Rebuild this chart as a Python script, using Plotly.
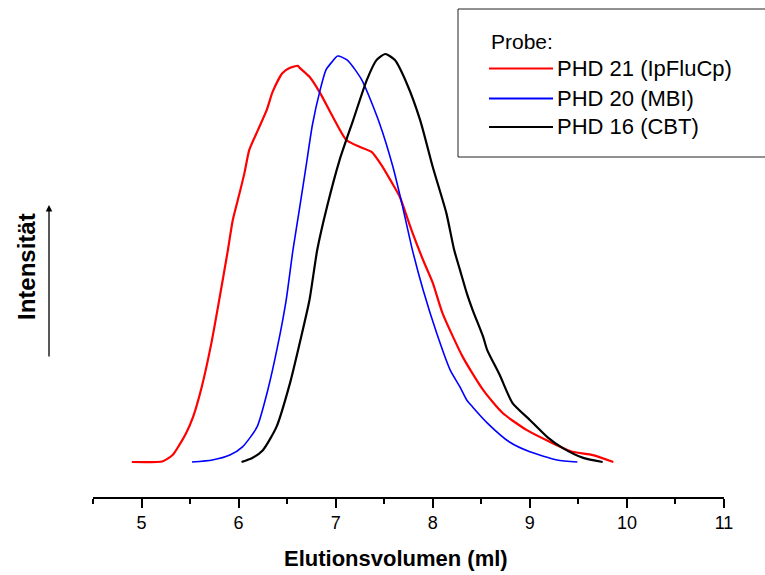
import plotly.graph_objects as go

# ---- data ----
red_x = [4.90, 5.22, 5.32, 5.39, 5.46, 5.53, 5.62, 5.72, 5.80, 5.89, 5.94, 6.01, 6.06, 6.11, 6.20,
         6.29, 6.35, 6.45, 6.53, 6.61, 6.63, 6.73, 6.84, 6.97, 7.11, 7.25, 7.37, 7.47, 7.58, 7.66,
         7.78, 7.90, 8.00, 8.10, 8.31, 8.52, 8.72, 8.97, 9.21, 9.44, 9.65, 9.86]
red_y = [0.000, 0.002, 0.017, 0.042, 0.071, 0.110, 0.184, 0.292, 0.397, 0.520, 0.593, 0.659, 0.708,
         0.765, 0.814, 0.863, 0.907, 0.953, 0.966, 0.971, 0.966, 0.944, 0.904, 0.846, 0.789, 0.772,
         0.760, 0.728, 0.684, 0.650, 0.569, 0.495, 0.439, 0.365, 0.257, 0.176, 0.120, 0.078, 0.049,
         0.025, 0.017, 0.000]

blue_x = [5.52, 5.73, 5.91, 6.04, 6.19, 6.30, 6.40, 6.49, 6.56, 6.63, 6.70, 6.76, 6.84, 6.90, 6.96,
          7.02, 7.12, 7.27, 7.45, 7.59, 7.69, 7.79, 7.90, 8.04, 8.18, 8.28, 8.35, 8.41, 8.56, 8.79,
          9.00, 9.28, 9.49]
blue_y = [0.000, 0.005, 0.017, 0.037, 0.086, 0.176, 0.282, 0.397, 0.520, 0.625, 0.733, 0.826, 0.912,
          0.961, 0.980, 0.995, 0.985, 0.936, 0.831, 0.723, 0.625, 0.520, 0.422, 0.316, 0.225, 0.184,
          0.152, 0.135, 0.096, 0.049, 0.025, 0.005, 0.000]

black_x = [6.03, 6.14, 6.25, 6.39, 6.53, 6.63, 6.73, 6.81, 6.91, 7.04, 7.18, 7.32, 7.42, 7.51, 7.61,
           7.73, 7.87, 8.00, 8.14, 8.22, 8.28, 8.35, 8.41, 8.52, 8.56, 8.69, 8.82, 9.00, 9.18, 9.34,
           9.55, 9.75]
black_y = [0.000, 0.010, 0.029, 0.086, 0.194, 0.292, 0.397, 0.520, 0.625, 0.740, 0.838, 0.936, 0.985,
           1.000, 0.985, 0.929, 0.838, 0.723, 0.610, 0.520, 0.471, 0.414, 0.373, 0.306, 0.275, 0.213,
           0.145, 0.103, 0.061, 0.034, 0.010, 0.000]

series_names = ["PHD 21 (IpFluCp)", "PHD 20 (MBI)", "PHD 16 (CBT)"]
series_colors = ["#ff0000", "#0000ff", "#000000"]
tick_vals = [5, 6, 7, 8, 9, 10, 11]
x_title = "Elutionsvolumen (ml)"
y_title = "Intensität"
legend_title = "Probe:"

# ---- layout geometry ----
W, H = 765, 575
ML, MR, MT, MB = 93, 41, 10, 78
PW, PH = W - ML - MR, H - MT - MB


def px(x):
    return (x - ML) / PW


def py(y):
    return (H - MB - y) / PH


FONT = "Liberation Sans, Arial, sans-serif"

fig = go.Figure()
widths = [2.2, 1.6, 2.2]
for xs, ys, name, col, w in zip([red_x, blue_x, black_x], [red_y, blue_y, black_y],
                                series_names, series_colors, widths):
    fig.add_trace(go.Scatter(x=xs, y=ys, mode="lines", name=name,
                             line=dict(color=col, width=w, shape="spline", smoothing=0.6),
                             showlegend=False))

shapes = []
annotations = []

# legend box
shapes.append(dict(type="rect", xref="paper", yref="paper",
                   x0=px(458), x1=px(767), y0=py(157), y1=py(9),
                   line=dict(color="#222222", width=1), fillcolor="white", layer="above"))
annotations.append(dict(xref="paper", yref="paper", x=px(489), y=py(41.5), text=legend_title,
                        showarrow=False, xanchor="left", yanchor="middle",
                        font=dict(family=FONT, size=21, color="black")))
row_y = [68.5, 98.5, 127]
for name, col, ry in zip(series_names, series_colors, row_y):
    shapes.append(dict(type="line", xref="paper", yref="paper",
                       x0=px(489), x1=px(553), y0=py(ry), y1=py(ry),
                       line=dict(color=col, width=2), layer="above"))
    annotations.append(dict(xref="paper", yref="paper", x=px(555), y=py(ry), text=name,
                            showarrow=False, xanchor="left", yanchor="middle",
                            font=dict(family=FONT, size=22, color="black")))

# y label and arrow
annotations.append(dict(xref="paper", yref="paper", x=px(26), y=py(267), text="<b>" + y_title + "</b>",
                        textangle=-90, showarrow=False, xanchor="center", yanchor="middle",
                        font=dict(family=FONT, size=24, color="black")))
annotations.append(dict(xref="paper", yref="paper", x=px(49), y=py(205), text="",
                        showarrow=True, ax=0, ay=153, axref="pixel", ayref="pixel",
                        arrowhead=2, arrowsize=1, arrowwidth=1.3, arrowcolor="black", standoff=0))
# x title
annotations.append(dict(xref="paper", yref="paper", x=px(396), y=py(558), text="<b>" + x_title + "</b>",
                        showarrow=False, xanchor="center", yanchor="middle",
                        font=dict(family=FONT, size=22, color="black")))

fig.update_layout(
    width=W, height=H,
    margin=dict(l=ML, r=MR, t=MT, b=MB),
    paper_bgcolor="white", plot_bgcolor="white",
    shapes=shapes, annotations=annotations,
    showlegend=False,
    font=dict(family=FONT, color="black"),
    xaxis=dict(range=[4.5, 11], tickmode="array", tickvals=tick_vals,
               ticktext=[str(v) for v in tick_vals],
               ticks="outside", ticklen=9, tickwidth=1.5, tickcolor="black",
               minor=dict(dtick=0.5, tick0=4.5, ticks="outside", ticklen=5, tickwidth=1.5, tickcolor="black"),
               showline=True, linecolor="black", linewidth=1.5, showgrid=False, zeroline=False,
               tickfont=dict(family=FONT, size=18, color="black")),
    yaxis=dict(range=[-0.0858, 1.1078], visible=False, showgrid=False, zeroline=False),
)

fig.write_html("out.html",
               config={"displayModeBar": False},
               post_script="document.body.style.margin='0';document.body.style.padding='0';"
                           "document.body.style.overflow='hidden';")
